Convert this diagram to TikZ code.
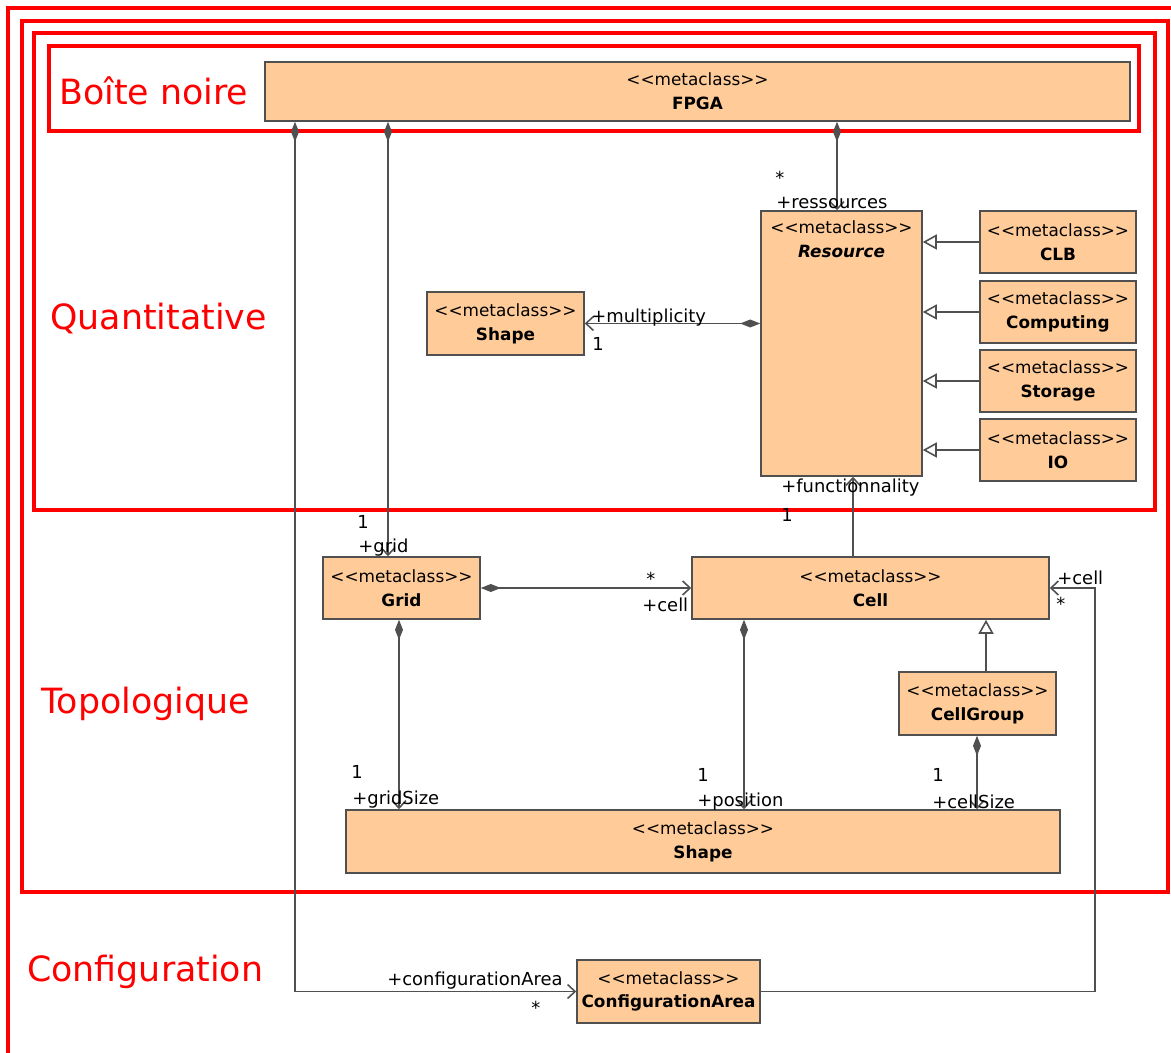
\documentclass[tikz,border=0pt]{standalone}
\usepackage{fontspec}
\setmainfont{DejaVu Sans}
\usepackage{tikz}
\usetikzlibrary{
    arrows.meta,
    positioning
}
\definecolor{classfill}{HTML}{FFCC99}
\definecolor{linegray}{HTML}{505050}
\newcommand{\umlfont}{\fontsize{9.6}{13.5}\selectfont}
\newcommand{\rolefont}{\fontsize{10.2}{12}\selectfont}
\newcommand{\stereo}{<\kern0pt<metaclass>\kern0pt>}

\begin{document}
\begin{tikzpicture}[
    x=0.02cm, y=-0.02cm,
    metaclass/.style={rectangle, draw=linegray, line width=0.9pt, fill=classfill, align=center, inner sep=0pt, font=\umlfont},
    region/.style={draw=red, line width=2pt},
    regionlabel/.style={text=red, font=\fontsize{19.8}{23}\selectfont, inner sep=0pt, anchor=base west},
    role/.style={font=\rolefont, inner sep=0pt, anchor=west},
    comp/.style={draw=linegray, line width=0.9pt, {Diamond[length=0.4cm, width=0.16cm]}-{Straight Barb[length=0.15cm, width=0.28cm]}},
    assoc/.style={draw=linegray, line width=0.9pt, -{Straight Barb[length=0.15cm, width=0.28cm]}},
    gen/.style={draw=linegray, line width=0.9pt, -{Triangle[open, fill=white, length=0.28cm, width=0.3cm]}},
]
    \useasboundingbox (0,0) rectangle (1171,1053);
    \clip (0,0) rectangle (1171,1053);

    % Regions
    \draw[region] (8,8) rectangle (1200,1080);
    \draw[region] (22,21) rectangle (1168,892);
    \draw[region] (34,33) rectangle (1155,510);
    \draw[region] (49,46) rectangle (1139,131);

    \node[regionlabel] (lblbox) at (59,105) {Boîte noire};
    \node[regionlabel] (lblquant) at (50,330) {Quantitative};
    \node[regionlabel] (lbltopo) at (41,714) {Topologique};
    \node[regionlabel] (lblconf) at (27,982) {Configuration};

    % Boite noire
    \node[metaclass, minimum width=17.3cm, minimum height=1.18cm] (FPGA) at (697.5,91.5) {\stereo\\\textbf{FPGA}};

    % Quantitative
    \node[metaclass, minimum width=3.22cm, minimum height=5.3cm,
          label={[name=restxt, font=\umlfont, align=center, anchor=center, yshift=-0.58cm]north:{\stereo\\\textbf{\textit{Resource}}}}] (Resource) at (841.5,343.5) {};
    \node[metaclass, minimum width=3.12cm, minimum height=1.24cm] (CLB) at (1058,242) {\stereo\\\textbf{CLB}};
    \node[metaclass, minimum width=3.12cm, minimum height=1.24cm] (Computing) at (1058,312) {\stereo\\\textbf{Computing}};
    \node[metaclass, minimum width=3.12cm, minimum height=1.24cm] (Storage) at (1058,381) {\stereo\\\textbf{Storage}};
    \node[metaclass, minimum width=3.12cm, minimum height=1.24cm] (IO) at (1058,450) {\stereo\\\textbf{IO}};
    \node[metaclass, minimum width=3.14cm, minimum height=1.26cm] (ShapeQ) at (505.5,323.5) {\stereo\\\textbf{Shape}};

    % Topologique
    \node[metaclass, minimum width=3.14cm, minimum height=1.24cm] (Grid) at (401.5,588) {\stereo\\\textbf{Grid}};
    \node[metaclass, minimum width=7.14cm, minimum height=1.24cm] (Cell) at (870.5,588) {\stereo\\\textbf{Cell}};
    \node[metaclass, minimum width=3.14cm, minimum height=1.26cm] (CellGroup) at (977.5,703.5) {\stereo\\\textbf{CellGroup}};
    \node[metaclass, minimum width=14.28cm, minimum height=1.26cm] (ShapeT) at (703,841.5) {\stereo\\\textbf{Shape}};

    % Configuration
    \node[metaclass, minimum width=3.66cm, minimum height=1.26cm] (ConfigArea) at (668.5,991.5) {\stereo\\\textbf{ConfigurationArea}};

    % Columns of the connectors
    \coordinate (xcfg) at (295,0);
    \coordinate (xgrid) at (388,0);
    \coordinate (xres) at (837,0);
    \coordinate (xfun) at (853,0);
    \coordinate (xgsize) at (399,0);
    \coordinate (xpos) at (744,0);
    \coordinate (xgen) at (986,0);
    \coordinate (xcsize) at (977,0);
    \coordinate (xloop) at (1095,0);

    % Connectors
    \draw[comp] (FPGA.south -| xcfg) |- (ConfigArea.west);
    \draw[comp] (FPGA.south -| xgrid) -- (Grid.north -| xgrid);
    \draw[comp] (FPGA.south -| xres) -- (Resource.north -| xres);
    \draw[comp] (Resource.west |- ShapeQ.east) -- (ShapeQ.east);
    \draw[gen] (CLB.west) -- (Resource.east |- CLB.west);
    \draw[gen] (Computing.west) -- (Resource.east |- Computing.west);
    \draw[gen] (Storage.west) -- (Resource.east |- Storage.west);
    \draw[gen] (IO.west) -- (Resource.east |- IO.west);
    \draw[assoc] (Cell.north -| xfun) -- (Resource.south -| xfun);
    \draw[comp] (Grid.east) -- (Cell.west);
    \draw[comp] (Grid.south -| xgsize) -- (ShapeT.north -| xgsize);
    \draw[comp] (Cell.south -| xpos) -- (ShapeT.north -| xpos);
    \draw[gen] (CellGroup.north -| xgen) -- (Cell.south -| xgen);
    \draw[comp] (CellGroup.south -| xcsize) -- (ShapeT.north -| xcsize);
    \draw[assoc] (ConfigArea.east) -| (xloop |- Cell.east) -- (Cell.east);

    % Roles and multiplicities
    \node[role] (resmult) at (775,178) {*};
    \node[role] (resrole) at (776,203) {+ressources};
    \node[role] (gridmult) at (357,522) {1};
    \node[role] (gridrole) at (358,548) {+grid};
    \node[role] (shaperole) at (591,318) {+multiplicity};
    \node[role] (shapemult) at (592,344) {1};
    \node[role] (funrole) at (781,488) {+functionnality};
    \node[role] (funmult) at (781,515) {1};
    \node[role] (cellmult) at (646,579) {*};
    \node[role] (cellrole) at (642,605) {+cell};
    \node[role] (gsizemult) at (351,772) {1};
    \node[role] (gsizerole) at (352,800) {+gridSize};
    \node[role] (posmult) at (697,775) {1};
    \node[role] (posrole) at (697,802) {+position};
    \node[role] (csizemult) at (932,775) {1};
    \node[role] (csizerole) at (932,802) {+cellSize};
    \node[role] (loopcellrole) at (1057,578) {+cell};
    \node[role] (loopcellmult) at (1056,604) {*};
    \node[role] (cfgrole) at (387,981) {+configurationArea};
    \node[role] (cfgmult) at (531,1008) {*};

\end{tikzpicture}
\end{document}
